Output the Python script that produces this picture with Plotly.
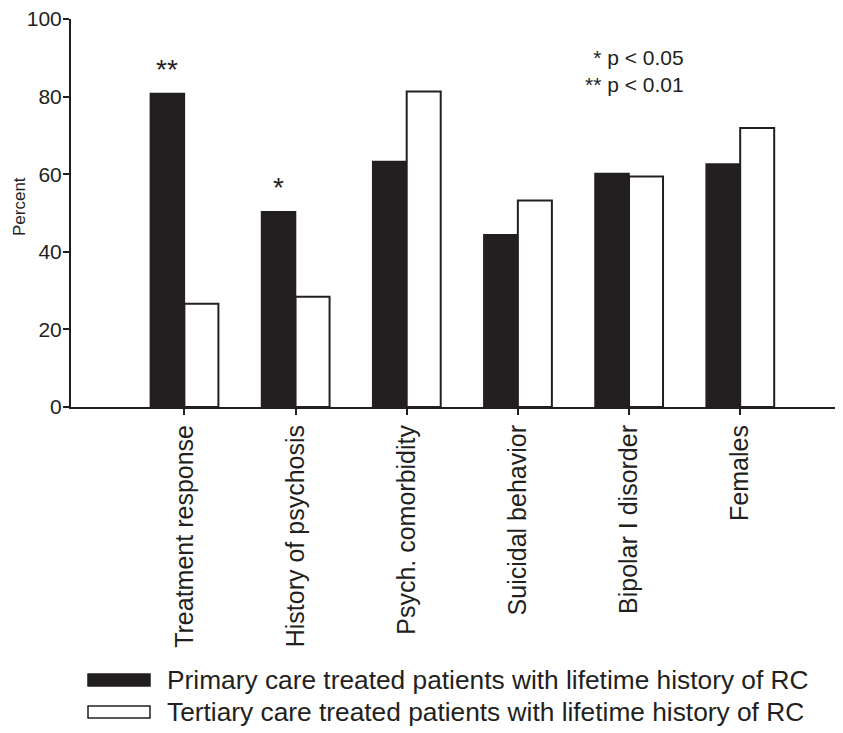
import plotly.graph_objects as go

# ---- data ----
categories = ["Treatment response", "History of psychosis", "Psych. comorbidity",
              "Suicidal behavior", "Bipolar I disorder", "Females"]
primary = [80.8, 50.3, 63.3, 44.4, 60.2, 62.6]
tertiary = [26.6, 28.4, 81.3, 53.2, 59.4, 71.9]
significance = ["**", "*", "", "", "", ""]
primary_name = "Primary care treated patients with lifetime history of RC"
tertiary_name = "Tertiary care treated patients with lifetime history of RC"
y_ticks = [0, 20, 40, 60, 80, 100]
y_title = "Percent"
p_note = "* p < 0.05<br>** p < 0.01"

# ---- style ----
INK = "#231f20"
FONT = "Liberation Sans, Arial, Helvetica, sans-serif"
OFF = 8                      # default page body margin
W, H = 843 - OFF, 733 - OFF
ML, MR, MT, MB = 71 - OFF, 0, 19 - OFF, 326
PW, PH = W - ML - MR, H - MT - MB


def px_x(p):
    """page pixel x -> paper x"""
    return (p - OFF - ML) / PW


def px_y(p):
    """page pixel y -> paper y"""
    return (H - MB - (p - OFF)) / PH


fig = go.Figure()
fig.add_trace(go.Bar(x=categories, y=primary, name=primary_name,
                     marker=dict(color=INK, line=dict(color=INK, width=1.5)),
                     showlegend=False))
fig.add_trace(go.Bar(x=categories, y=tertiary, name=tertiary_name,
                     marker=dict(color="white", line=dict(color=INK, width=2)),
                     showlegend=False))

# significance stars above primary bars
for cat, val, sig in zip(categories, primary, significance):
    if sig:
        fig.add_annotation(x=cat, y=val, text=sig, showarrow=False,
                           xref="x", yref="y", xshift=-17, yshift=7,
                           yanchor="bottom",
                           font=dict(family=FONT, size=28, color=INK))

# p-value note
fig.add_annotation(x=px_x(686), y=px_y(44), xref="paper", yref="paper",
                   text=p_note, showarrow=False, align="right",
                   xanchor="right", yanchor="top",
                   font=dict(family=FONT, size=21, color=INK))

# y axis title
fig.add_annotation(x=px_x(19), y=px_y(207), xref="paper", yref="paper",
                   text=y_title, showarrow=False, textangle=-90,
                   xanchor="center", yanchor="middle",
                   font=dict(family=FONT, size=17, color=INK))

# manual legend (wide rectangles)
legend_rows = [(primary_name, INK, 680), (tertiary_name, "white", 712)]
shapes = []
for name, fill, cy in legend_rows:
    shapes.append(dict(type="rect", xref="paper", yref="paper",
                       x0=px_x(88), x1=px_x(150), y0=px_y(cy - 6), y1=px_y(cy + 6),
                       fillcolor=fill, line=dict(color=INK, width=1.5)))
    fig.add_annotation(x=px_x(165), y=px_y(cy), xref="paper", yref="paper",
                       text=name, showarrow=False, xanchor="left", yanchor="middle",
                       font=dict(family=FONT, size=26.3, color=INK))

fig.update_layout(
    width=W, height=H,
    margin=dict(l=ML, r=MR, t=MT, b=MB, autoexpand=False),
    paper_bgcolor="white", plot_bgcolor="white",
    barmode="group", bargap=0.388, bargroupgap=0,
    shapes=shapes,
    font=dict(family=FONT, color=INK),
)
fig.update_xaxes(
    type="category", range=[-1.02, 5.925],
    showline=True, linecolor=INK, linewidth=2,
    ticks="outside", ticklen=6, tickwidth=2, tickcolor=INK,
    tickangle=-90, ticklabelstandoff=0,
    tickfont=dict(family=FONT, size=25, color=INK),
    showgrid=False, zeroline=False, automargin=False,
)
fig.update_yaxes(
    range=[0, 100], tickvals=y_ticks,
    showline=True, linecolor=INK, linewidth=2,
    ticks="outside", ticklen=6, tickwidth=2, tickcolor=INK,
    tickfont=dict(family=FONT, size=21, color=INK),
    ticklabeloverflow="allow", ticklabelstandoff=-3,
    showgrid=False, zeroline=False, automargin=False,
)

fig.write_html("out.html")
